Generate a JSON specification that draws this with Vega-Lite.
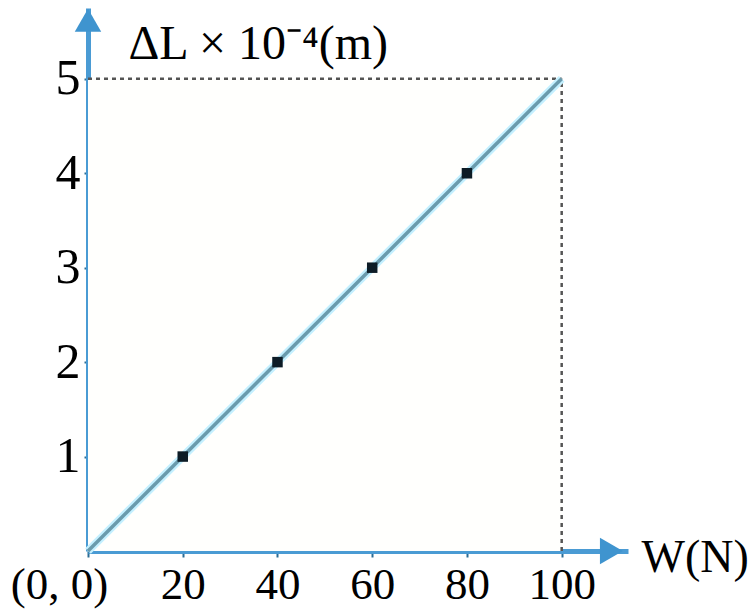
{
  "$schema": "https://vega.github.io/schema/vega-lite/v6.json",
  "width": 540,
  "height": 543,
  "autosize": {"type": "none"},
  "padding": {"left": 88, "top": 8, "right": 122, "bottom": 59},
  "background": "white",
  "config": {"view": {"stroke": null}},
  "datasets": {
    "frame": [{"w": 0, "w2": 100, "dl": 0, "dl2": 5}],
    "dash": [
      {"w": 0, "w2": 100, "dl": 5, "dl2": 5},
      {"w": 100, "w2": 100, "dl": 0, "dl2": 5}
    ],
    "fit": [{"w": 0, "dl": 0}, {"w": 100, "dl": 5}],
    "pts": [{"w": 20, "dl": 1}, {"w": 40, "dl": 2}, {"w": 60, "dl": 3}, {"w": 80, "dl": 4}],
    "arrows": [{"w": 110.5, "dl": 0, "shape": "triangle-right"}, {"w": 0, "dl": 5.62, "shape": "triangle-up"}]
  },
  "layer": [
    {
      "data": {"name": "frame"},
      "mark": {"type": "rect", "fill": "#fffffd"},
      "encoding": {
        "x": {
          "field": "w", "type": "quantitative",
          "scale": {"domain": [0, 114], "nice": false, "zero": false},
          "axis": {
            "values": [0, 20, 40, 60, 80, 100],
            "labelExpr": "datum.value === 0 ? '(0, 0)' : datum.label",
            "labelOffset": {"condition": {"test": "datum.value === 0", "value": -29}, "value": 0},
            "labelFont": "Liberation Serif",
            "labelFontSize": 45,
            "labelFontWeight": "normal",
            "labelColor": "#000000",
            "labelBaseline": "alphabetic",
            "labelPadding": 41,
            "labelOverlap": false,
            "labelFlush": false,
            "labelBound": false,
            "tickSize": 6,
            "tickWidth": 2,
            "tickColor": "#2b6c95",
            "domainColor": "#4a9bd4",
            "domainWidth": 5,
            "grid": false,
            "title": "W(N)",
            "titleFont": "Liberation Serif",
            "titleFontSize": 46,
            "titleFontWeight": "normal",
            "titleColor": "#000000",
            "titleAlign": "left",
            "titleAnchor": null,
            "titleBaseline": "alphabetic",
            "titleX": 553,
            "titleY": 20
          }
        },
        "x2": {"field": "w2"},
        "y": {
          "field": "dl", "type": "quantitative",
          "scale": {"domain": [0, 5.75], "nice": false, "zero": false},
          "axis": {
            "values": [1, 2, 3, 4, 5],
            "format": "d",
            "labelFont": "Liberation Serif",
            "labelFontSize": 50,
            "labelFontWeight": "normal",
            "labelColor": "#000000",
            "labelPadding": 4,
            "tickSize": 4,
            "tickWidth": 2,
            "tickColor": "#2b6c95",
            "domainColor": "#4a9bd4",
            "domainWidth": 5,
            "grid": false,
            "title": "ΔL × 10⁻⁴(m)",
            "titleFont": "Liberation Serif",
            "titleFontSize": 48,
            "titleFontWeight": "normal",
            "titleColor": "#000000",
            "titleAngle": 0,
            "titleAlign": "left",
            "titleAnchor": null,
            "titleBaseline": "alphabetic",
            "titleX": 40,
            "titleY": 50
          }
        },
        "y2": {"field": "dl2"}
      }
    },
    {
      "data": {"name": "dash"},
      "mark": {"type": "rule", "stroke": "#555555", "strokeWidth": 2.5, "strokeDash": [4, 4]},
      "encoding": {
        "x": {"field": "w", "type": "quantitative"},
        "x2": {"field": "w2"},
        "y": {"field": "dl", "type": "quantitative"},
        "y2": {"field": "dl2"}
      }
    },
    {
      "data": {"name": "fit"},
      "mark": {"type": "line", "stroke": "#c4f0ff", "strokeWidth": 8},
      "encoding": {
        "x": {"field": "w", "type": "quantitative"},
        "y": {"field": "dl", "type": "quantitative"}
      }
    },
    {
      "data": {"name": "fit"},
      "mark": {"type": "line", "stroke": "#6a9bad", "strokeWidth": 3.5},
      "encoding": {
        "x": {"field": "w", "type": "quantitative"},
        "y": {"field": "dl", "type": "quantitative"}
      }
    },
    {
      "data": {"name": "pts"},
      "mark": {"type": "point", "shape": "square", "filled": true, "size": 110, "color": "#0d1c26", "opacity": 1},
      "encoding": {
        "x": {"field": "w", "type": "quantitative"},
        "y": {"field": "dl", "type": "quantitative"}
      }
    },
    {
      "data": {"name": "arrows"},
      "mark": {"type": "point", "filled": true, "size": 700, "color": "#3f94cf", "opacity": 1},
      "encoding": {
        "x": {"field": "w", "type": "quantitative"},
        "y": {"field": "dl", "type": "quantitative"},
        "shape": {"field": "shape", "type": "nominal", "scale": null, "legend": null}
      }
    }
  ]
}
